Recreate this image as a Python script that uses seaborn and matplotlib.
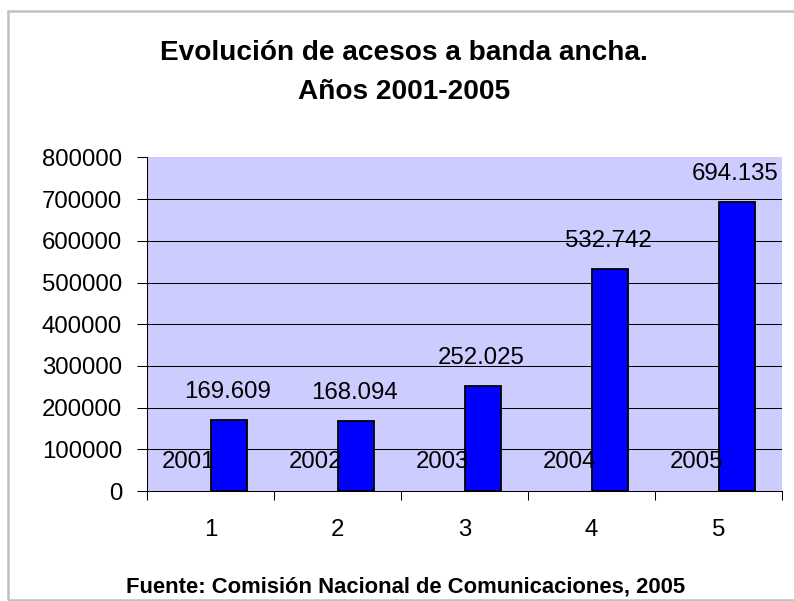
import matplotlib
matplotlib.use("Agg")
import matplotlib.pyplot as plt
from matplotlib.patches import Rectangle
from matplotlib.ticker import FixedLocator, StrMethodFormatter
import pandas as pd
import seaborn as sns

# Broadband access lines per year (CNC, 2005)
categorias = ["1", "2", "3", "4", "5"]
anios = [2001, 2002, 2003, 2004, 2005]
accesos = [169609, 168094, 252025, 532742, 694135]
etiquetas_accesos = ["169.609", "168.094", "252.025", "532.742", "694.135"]
etiquetas_anios = ["2001", "2002", "2003", "2004", "2005"]
ticks_y = [0, 100000, 200000, 300000, 400000, 500000, 600000, 700000, 800000]

titulo = "Evolución de acesos a banda ancha.\nAños 2001-2005"
fuente = "Fuente: Comisión Nacional de Comunicaciones, 2005"

sns.set_style("white")
plt.rcParams["font.family"] = ["Liberation Sans", "DejaVu Sans"]
plt.rcParams["text.color"] = "black"

df = pd.DataFrame({
    "categoria": categorias * 2,
    "serie": ["Año"] * len(anios) + ["Accesos"] * len(accesos),
    "valor": anios + accesos,
})

W, H = 794, 601
fig = plt.figure(figsize=(W / 100, H / 100), dpi=100)
fig.patch.set_facecolor("white")

# plot area in pixel coordinates
left, right, top, bottom = 147, 782, 157.4, 491
ax = fig.add_axes([left / W, 1 - bottom / H, (right - left) / W, (bottom - top) / H])
ax.set_facecolor("#CCCCFF")

sns.barplot(
    data=df, x="categoria", y="valor", hue="serie",
    order=categorias, hue_order=["Año", "Accesos"],
    palette={"Año": "#0000FF", "Accesos": "#0000FF"},
    width=0.578, gap=0, dodge=True, edgecolor="black", linewidth=1.3,
    saturation=1, legend=False, ax=ax, zorder=3,
)

# the year series is a label-only series: no visible bar
for p in ax.containers[0]:
    p.set_facecolor("none")
    p.set_edgecolor("none")

for cont, labels, dx in ((ax.containers[0], etiquetas_anios, -2.5),
                         (ax.containers[1], etiquetas_accesos, -1)):
    for p, lab in zip(cont, labels):
        ax.annotate(lab, (p.get_x() + p.get_width() / 2, p.get_height()),
                    xytext=(dx, 20), textcoords="offset points",
                    ha="center", va="center", fontsize=17.3, color="black",
                    zorder=5)

ax.set_ylim(0, 800000)
ax.set_xlim(-0.5, len(categorias) - 0.5)
ax.yaxis.set_major_locator(FixedLocator(ticks_y))
ax.yaxis.set_major_formatter(StrMethodFormatter("{x:.0f}"))
ax.set_xlabel("")
ax.set_ylabel("")

ax.grid(axis="y", color="black", linewidth=0.75, zorder=1)
ax.set_axisbelow(True)
ax.get_ygridlines()[0].set_visible(False)
ax.get_ygridlines()[-1].set_visible(False)

for s in ("top", "right"):
    ax.spines[s].set_visible(False)
for s in ("left", "bottom"):
    ax.spines[s].set_color("black")
    ax.spines[s].set_linewidth(0.75)

ax.tick_params(axis="y", which="major", direction="out", length=7.2, width=0.75,
               color="black", pad=10.8, labelsize=17.3, labelcolor="black", left=True)
ax.set_xticks([i - 0.5 for i in range(len(categorias) + 1)], minor=True)
ax.tick_params(axis="x", which="minor", direction="out", length=6.5, width=0.75,
               color="black", bottom=True)
ax.tick_params(axis="x", which="major", length=0, pad=20.5, labelsize=17.3,
               labelcolor="black")

fig.text(404 / W, 1 - 60 / H, titulo.split("\n")[0], ha="center", va="baseline",
         fontsize=20.2, fontweight="bold", color="black")
fig.text(404 / W, 1 - 99 / H, titulo.split("\n")[1], ha="center", va="baseline",
         fontsize=20.2, fontweight="bold", color="black")
fig.text(406 / W, 1 - 593 / H, fuente, ha="center", va="baseline",
         fontsize=15.8, fontweight="bold", color="black")

# chart frame (open on the right, where it runs past the image edge)
fig.patches.append(Rectangle((8 / W, 1 - 600 / H), 830 / W, 589 / H,
                             transform=fig.transFigure, fill=False,
                             edgecolor="#C0C0C0", linewidth=1.8))

fig.savefig("out.png", dpi=100, facecolor="white")
